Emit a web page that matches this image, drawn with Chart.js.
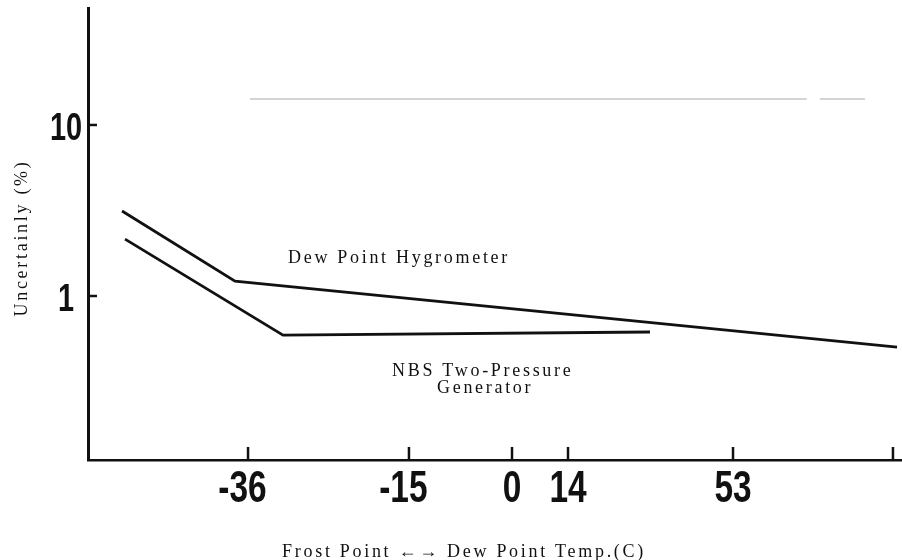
<!DOCTYPE html>
<html>
<head>
<meta charset="utf-8">
<script src="https://cdn.jsdelivr.net/npm/chart.js@4"></script>
<style>
  html, body { margin: 0; padding: 0; background: #fff; }
  #chart { display: block; }
</style>
</head>
<body>
<canvas id="chart" width="902" height="560"></canvas>
<script>
// x axis is a warped temperature scale, so x values are in axis units (0..100)
const xTickUnits = [19.66, 39.43, 52.09, 58.97, 79.24, 98.89];
const xTickLabels = ['-36', '-15', '0', '14', '53', ''];

const yTickValues = [1, 10];
const yTickLabels = ['1', '10'];

// Dew Point Hygrometer
const dewX = [4.18, 18.06, 99.39];
const dewY = [3.14, 1.22, 0.503];

// NBS Two-Pressure Generator
const nbsX = [4.55, 23.96, 69.04];
const nbsY = [2.15, 0.59, 0.616];

// faint grey rule near the top of the scan
const ruleX = [19.9, 88.3, 89.0, 89.9, 95.45];
const ruleY = [14.2, 14.2, null, 14.2, 14.2];

const toPoints = (xs, ys) => xs.map((x, i) => ({ x: x, y: ys[i] }));

const serif = "'Liberation Serif', 'DejaVu Serif', serif";
const sans = "'Liberation Sans', Arial, sans-serif";

// condensed bold numbers, digits centred on the tick, minus hanging left
const drawNumber = (ctx, label, cx, baseline, size) => {
    ctx.save();
    ctx.translate(cx, baseline);
    ctx.scale(0.76, 1);
    ctx.font = 'bold ' + size + 'px ' + sans;
    ctx.textBaseline = 'alphabetic';
    const digits = label.replace('-', '');
    const w = ctx.measureText(digits).width;
    ctx.textAlign = 'left';
    ctx.fillText(digits, -w / 2, 0);
    if (label.startsWith('-')) {
        ctx.textAlign = 'right';
        ctx.fillText('-', -w / 2, 0);
    }
    ctx.restore();
};

// --- inward tick marks, tick labels, axis titles and the two line labels ---
const decorations = {
    id: 'decorations',
    afterDraw(chart) {
        const ctx = chart.ctx;
        const xs = chart.scales.x;
        const ys = chart.scales.y;
        const area = chart.chartArea;

        ctx.save();
        ctx.strokeStyle = '#111';
        ctx.fillStyle = '#111';
        ctx.lineWidth = 2.5;
        yTickValues.forEach((v, i) => {
            const py = ys.getPixelForValue(v);
            ctx.beginPath();
            ctx.moveTo(area.left, py);
            ctx.lineTo(area.left + 9, py);
            ctx.stroke();
            drawNumber(ctx, yTickLabels[i], 66, py + 15, 38);
        });
        xTickUnits.forEach((v, i) => {
            const px = xs.getPixelForValue(v);
            ctx.beginPath();
            ctx.moveTo(px, area.bottom);
            ctx.lineTo(px, area.bottom - 13);
            ctx.stroke();
            if (xTickLabels[i]) drawNumber(ctx, xTickLabels[i], px, 502, 44);
        });

        ctx.letterSpacing = '2.7px';
        ctx.font = '18px ' + serif;
        ctx.textBaseline = 'alphabetic';

        ctx.textAlign = 'left';
        ctx.fillText('Dew Point Hygrometer', 288, 263);
        ctx.fillText('NBS Two-Pressure', 392, 376);
        ctx.fillText('Generator', 437, 393);

        ctx.textAlign = 'center';
        ctx.fillText('Frost Point \u2190\u2192 Dew Point Temp.(C)', 464, 557);

        ctx.translate(22, 238);
        ctx.rotate(-Math.PI / 2);
        ctx.textBaseline = 'middle';
        ctx.fillText('Uncertainly (%)', 0, 0);
        ctx.restore();
    }
};

new Chart(document.getElementById('chart'), {
    type: 'line',
    data: {
        datasets: [
            {
                label: 'Dew Point Hygrometer',
                data: toPoints(dewX, dewY),
                borderColor: '#111',
                borderWidth: 2.8,
                pointRadius: 0,
                tension: 0
            },
            {
                label: 'NBS Two-Pressure Generator',
                data: toPoints(nbsX, nbsY),
                borderColor: '#111',
                borderWidth: 2.8,
                pointRadius: 0,
                tension: 0
            },
            {
                label: 'rule',
                data: toPoints(ruleX, ruleY),
                borderColor: '#d4d4d4',
                borderWidth: 2,
                pointRadius: 0,
                spanGaps: false
            }
        ]
    },
    options: {
        responsive: false,
        animation: false,
        events: [],
        layout: { padding: { top: 8, right: 0, bottom: 0, left: 0 } },
        plugins: {
            legend: { display: false },
            tooltip: { enabled: false }
        },
        scales: {
            x: {
                type: 'linear',
                min: 0,
                max: 100,
                afterBuildTicks: (scale) => {
                    scale.ticks = xTickUnits.map(v => ({ value: v }));
                },
                afterFit: (scale) => {
                    scale.height = 100;
                    scale.paddingLeft = 0;
                    scale.paddingRight = 0;
                },
                grid: { display: false, drawTicks: false },
                border: { display: true, color: '#111', width: 2.5 },
                ticks: { display: false }
            },
            y: {
                type: 'logarithmic',
                min: 0.1099,
                max: 48.3,
                afterBuildTicks: (scale) => {
                    scale.ticks = yTickValues.map(v => ({ value: v }));
                },
                afterFit: (scale) => {
                    scale.width = 88;
                    scale.paddingTop = 0;
                    scale.paddingBottom = 0;
                },
                grid: { display: false, drawTicks: false },
                border: { display: true, color: '#111', width: 3 },
                ticks: { display: false }
            }
        }
    },
    plugins: [decorations]
});
</script>
</body>
</html>
